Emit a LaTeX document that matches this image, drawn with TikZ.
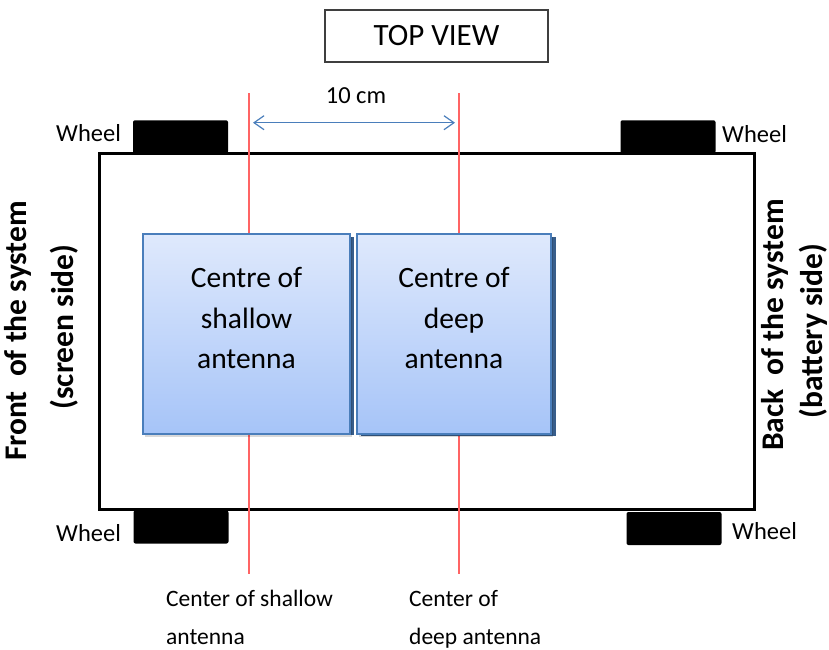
\documentclass[tikz,border=0pt]{standalone}
\usepackage{fontspec}
\setmainfont{Carlito}
\usetikzlibrary{arrows.meta,shadows}

\definecolor{anttop}{HTML}{DFE9FC}
\definecolor{antbottom}{HTML}{A6C4F8}
\definecolor{antedge}{HTML}{4A7EBB}
\definecolor{antside}{HTML}{385D8A}
\definecolor{centreline}{HTML}{FF6464}
\definecolor{dimblue}{HTML}{4A7EBB}
\definecolor{framegray}{HTML}{3F3F3F}

\begin{document}
\begin{tikzpicture}[x=1pt,y=-1pt,
  titlebox/.style={draw=framegray, line width=1.2pt, minimum width=223pt,
    minimum height=52pt, inner sep=0pt, font=\fontsize{31}{36}\selectfont},
  chassis/.style={draw=black, line width=3pt, minimum width=655pt,
    minimum height=356.5pt, inner sep=0pt},
  wheel/.style={fill=black, rounded corners=2pt, minimum width=95pt,
    minimum height=33pt, inner sep=0pt},
  wheellbl/.style={font=\fontsize{24.5}{29}\selectfont, inner sep=0pt, anchor=base west},
  antenna/.style={draw=antedge, line width=1.2pt, top color=anttop,
    bottom color=antbottom, minimum height=200pt, inner sep=0pt,
    drop shadow={shadow xshift=2pt, shadow yshift=-3pt, opacity=0.15, fill=black}},
  antside/.style={fill=antside},
  antlbl/.style={font=\fontsize{29.5}{34}\selectfont, inner sep=0pt, anchor=base},
  sidelbl/.style={font=\bfseries\fontsize{31.5}{36}\selectfont, inner sep=0pt,
    rotate=90, anchor=base},
  bottomlbl/.style={font=\fontsize{23.5}{38}\selectfont, inner sep=0pt,
    anchor=base west},
  centre/.style={draw=centreline, line width=1.3pt},
  dim/.style={draw=dimblue, line width=1.2pt,
    {Straight Barb[length=10pt,width=14pt]}-{Straight Barb[length=10pt,width=14pt]}}
]
\useasboundingbox (0,0) rectangle (829,649);

% title
\node[titlebox] (title) at (436.5,36) {TOP VIEW};

% chassis outline and wheels
\node[chassis] (body) at (427,331.25) {};
\node[wheel] (wheelTL) at (180.5,136.75) {};
\node[wheel] (wheelTR) at (668,136.75) {};
\node[wheel] (wheelBL) at (181,527) {};
\node[wheel] (wheelBR) at (674,528.5) {};

\node[wheellbl] (lblTL) at (56,141.5) {Wheel};
\node[wheellbl] (lblTR) at (722,142) {Wheel};
\node[wheellbl] (lblBL) at (56,541) {Wheel};
\node[wheellbl] (lblBR) at (732,539) {Wheel};

% centre lines of the two antennas
\coordinate (sTop) at (249,93);
\coordinate (sBot) at (249,574);
\coordinate (dTop) at (459,93);
\coordinate (dBot) at (459,574);
\draw[centre] (sTop) -- (sBot);
\draw[centre] (dTop) -- (dBot);

% spacing between the antenna centres
\coordinate (dimL) at (253,122.7);
\coordinate (dimR) at (455,122.7);
\draw[dim] (dimL) -- (dimR);
\node[inner sep=0pt, anchor=base, font=\fontsize{24.5}{29}\selectfont] (dist) at (356,103) {10 cm};

% antenna boxes with their darker right-hand side
\fill[antside] (147,237) rectangle (354,435);
\fill[antside] (361,237) rectangle (556,436);
\node[antenna, minimum width=207pt] (shallow) at (246.5,334) {};
\node[antenna, minimum width=194pt] (deep) at (454,334) {};

\node[antlbl] (sh1) at (246.5,287) {Centre of};
\node[antlbl] (sh2) at (246.5,328) {shallow};
\node[antlbl] (sh3) at (246.5,368) {antenna};
\node[antlbl] (dp1) at (454,287) {Centre of};
\node[antlbl] (dp2) at (454,328) {deep};
\node[antlbl] (dp3) at (454,368) {antenna};

% sides of the system
\node[sidelbl] (front1) at (27,331) {Front\ \ of the system};
\node[sidelbl] (front2) at (73,327) {(screen side)};
\node[sidelbl] (back1) at (783,325) {Back\ \ of the system};
\node[sidelbl] (back2) at (822,331) {(battery side)};

% captions under the centre lines
\node[bottomlbl] (capS1) at (166,606) {Center of shallow};
\node[bottomlbl] (capS2) at (166,644) {antenna};
\node[bottomlbl] (capD1) at (409,606) {Center of};
\node[bottomlbl] (capD2) at (409,644) {deep antenna};
\end{tikzpicture}
\end{document}
